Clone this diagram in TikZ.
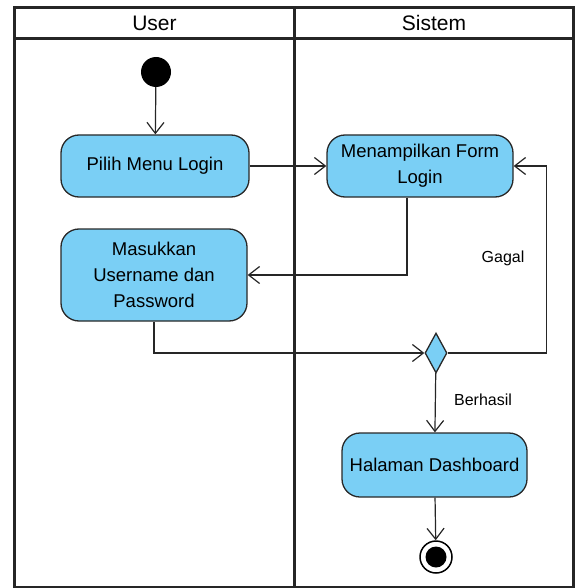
\documentclass[tikz,border=0pt]{standalone}
\usepackage{fontspec}
\setmainfont{Liberation Sans}
\usetikzlibrary{positioning,arrows.meta,shapes.geometric}
\definecolor{actblue}{RGB}{122,207,245}
\definecolor{actline}{RGB}{40,40,40}

\begin{document}
\begin{tikzpicture}[x=1pt,y=-1pt,
    action/.style={draw=actline, line width=1.3pt, fill=actblue, rounded corners=18pt,
      align=center, inner sep=0pt, font=\fontsize{18.5}{26}\selectfont},
    flow/.style={draw=black!85, line width=1.2pt, -{Straight Barb[length=11pt,width=17pt]}},
    lane/.style={draw=black!85, line width=3pt},
    guard/.style={font=\fontsize{16}{19}\selectfont}]
    \useasboundingbox (0,0) rectangle (575,588);
    % swimlanes
    \draw[lane] (14.5,7.5) rectangle (573.5,587);
    \draw[lane] (14.5,39) -- (573.5,39);
    \draw[lane] (294.5,7.5) -- (294.5,587);
    \node[font=\fontsize{21}{25}\selectfont] (user) at (154.5,23) {User};
    \node[font=\fontsize{21}{25}\selectfont] (sistem) at (434,23) {Sistem};

    % activities
    \node[circle, fill=black, minimum size=30pt, inner sep=0pt] (start) at (156,72) {};
    \node[action, minimum width=188pt, minimum height=62pt] (pilih) at (155,166) {Pilih Menu Login};
    \node[action, minimum width=186pt, minimum height=92pt] (masuk) at (154,275) {Masukkan\\Username dan\\Password};
    \node[action, minimum width=186pt, minimum height=62pt] (tampil) at (420,166) {Menampilkan Form\\Login};
    \node[diamond, draw=actline, line width=1.3pt, fill=actblue, inner sep=0pt,
      minimum width=22pt, minimum height=40pt] (cek) at (436,353) {};
    \node[action, minimum width=185pt, minimum height=64pt] (dash) at (434.5,465) {Halaman Dashboard};
    \node[circle, draw=black, line width=1.5pt, fill=white, minimum size=32pt, inner sep=0pt] (final) at (436,557) {};
    \node[circle, fill=black, minimum size=21pt, inner sep=0pt] (finaldot) at (final) {};

    % flows
    \draw[flow] (start) -- (pilih);
    \draw[flow] (pilih) -- (tampil);
    \draw[flow] ([xshift=-13pt]tampil.south) |- (masuk.east);
    \draw[flow] (masuk.south) |- (cek.west);
    \draw[flow] (cek.east) -- ++(99,0) |- (tampil.east);
    \draw[flow] (cek) -- (dash);
    \draw[flow] (dash) -- (final);
    \node[guard] (gagal) at (503,258) {Gagal};
    \node[guard] (berhasil) at (483,400) {Berhasil};
\end{tikzpicture}
\end{document}
